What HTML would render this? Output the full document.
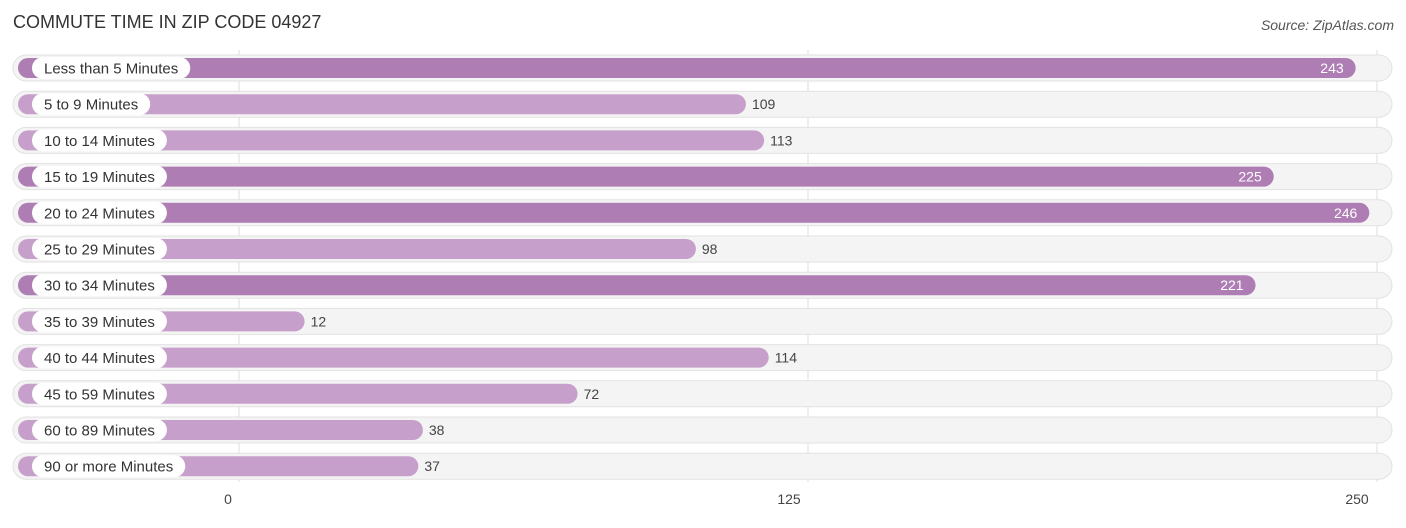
<!DOCTYPE html>
<html><head><meta charset="utf-8"><style>
body{margin:0;background:#fff;width:1406px;height:523px;overflow:hidden;font-family:"Liberation Sans",sans-serif}
</style></head><body>
<svg id="c" width="1406" height="523" xmlns="http://www.w3.org/2000/svg">
<text x="13" y="28" font-size="18" fill="#333">COMMUTE TIME IN ZIP CODE 04927</text>
<text x="1394" y="30" font-size="14" fill="#555" font-style="italic" text-anchor="end">Source: ZipAtlas.com</text>
<g id="grid"></g><g id="rows"></g><g id="ticks"></g>
</svg>
<script>
const categories=["Less than 5 Minutes","5 to 9 Minutes","10 to 14 Minutes","15 to 19 Minutes","20 to 24 Minutes","25 to 29 Minutes","30 to 34 Minutes","35 to 39 Minutes","40 to 44 Minutes","45 to 59 Minutes","60 to 89 Minutes","90 or more Minutes"];
const values=[243,109,113,225,246,98,221,12,114,72,38,37];
const tickValues=[0,125,250];
const tickLabels=["0","125","250"];
const NS="http://www.w3.org/2000/svg";
function x(v){return 239+v*4.552;}
function barEnd(v){return 250+v*4.55;}
function y(i){return 68+i*36.2;}
function mk(t,a,p){const e=document.createElementNS(NS,t);for(const k in a)e.setAttribute(k,a[k]);p.appendChild(e);return e;}
const grid=document.getElementById('grid'),rows=document.getElementById('rows'),ticks=document.getElementById('ticks');
tickValues.forEach((v,i)=>{
 const l=mk('line',{x1:x(v),x2:x(v),y1:50,y2:482,stroke:'#ddd','stroke-width':1},grid);
 
 
 const t=mk('text',{x:x(v)-11+(i==0?0:0),y:504,'font-size':14,fill:'#444','text-anchor':'middle'},ticks);
 t.setAttribute('x',i==0?228:(i==1?789:1357));
 t.textContent=tickLabels[i];
 
 
});
const maxV=Math.max(...values);
categories.forEach((c,i)=>{
 const cy=y(i),v=values[i];
 const g=mk('g',{},rows);
 
 
 const bg=mk('rect',{x:13,y:cy-13,width:1379,height:26,rx:13,fill:'#f4f4f4',stroke:'#e2e2e2','stroke-width':1},g);
 
 
 const strong=v>maxV*0.8;
 const b=mk('rect',{x:18,y:cy-10,width:barEnd(v)-18,height:20,rx:10,fill:strong?'#ae7db4':'#c6a0ca'},g);
 
 
 const lt=mk('text',{x:44,y:cy+5.5,'font-size':15,fill:'#333'},g);
 lt.textContent=c;
 
 
 const w=lt.getComputedTextLength();
 const pill=mk('rect',{x:32,y:cy-11,width:w+24,height:22,rx:11,fill:'#fff'},g);
 g.insertBefore(pill,lt);
 
 
 const vt=mk('text',{y:cy+5,'font-size':14},g);
 vt.textContent=v;
 if(strong){vt.setAttribute('x',barEnd(v)-12);vt.setAttribute('text-anchor','end');vt.setAttribute('fill','#fff');}
 else{vt.setAttribute('x',barEnd(v)+6);vt.setAttribute('fill','#444');}
 
 
});
</script>
</body></html>
